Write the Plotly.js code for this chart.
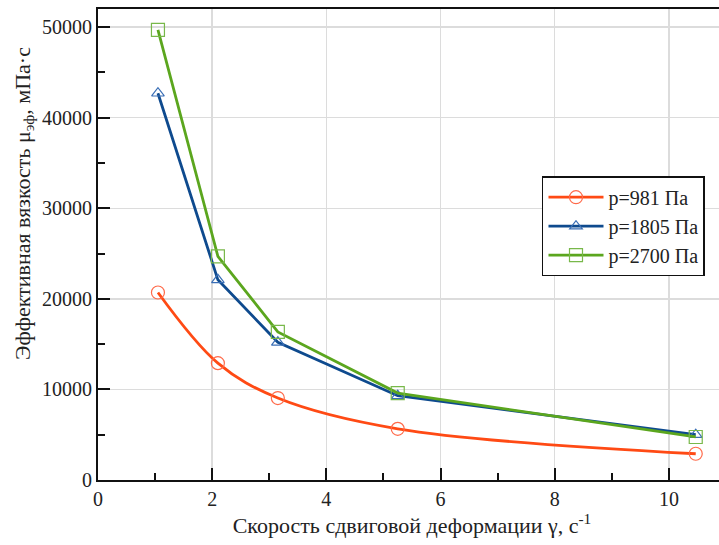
<!DOCTYPE html>
<html>
<head>
<meta charset="utf-8">
<script src="https://cdn.plot.ly/plotly-3.0.1.min.js"></script>
<style>
html,body{margin:0;padding:0;overflow:hidden;background:#fff;}
#chart{width:730px;height:545px;}
</style>
</head>
<body>
<div id="chart"></div>
<script>
// Shear rate, s^-1
const shearRate = [1.05, 2.1, 3.15, 5.25, 10.47];
// Effective viscosity, mPa·s
const visc981 = [20700, 12900, 9050, 5650, 2900];
const visc1805 = [42700, 22100, 15200, 9300, 5000];
const visc2700 = [49700, 24700, 16350, 9600, 4750];
const seriesNames = ['p=981 Па', 'p=1805 Па', 'p=2700 Па'];
const xTitle = 'Скорость сдвиговой деформации γ, с<sup>-1</sup>';
const yTitle = 'Эффективная вязкость μ<sub>эф</sub>, мПа·с';

const serif = '"Liberation Serif", serif';

const traces = [
  {
    x: shearRate, y: visc981, name: seriesNames[0], type: 'scatter', mode: 'lines+markers',
    line: {color: '#ff4a14', width: 2.8, shape: 'spline', smoothing: 1},
    marker: {symbol: 'circle-open', size: 13, color: '#ff6a4a', line: {width: 1.2}}
  },
  {
    x: shearRate, y: visc1805, name: seriesNames[1], type: 'scatter', mode: 'lines+markers',
    line: {color: '#0e4a8e', width: 2.8},
    marker: {symbol: 'triangle-up-open', size: 11, color: '#3b6fb6', line: {width: 1.2}}
  },
  {
    x: shearRate, y: visc2700, name: seriesNames[2], type: 'scatter', mode: 'lines+markers',
    line: {color: '#5ba61e', width: 2.8},
    marker: {symbol: 'square-open', size: 13, color: '#78b84a', line: {width: 1.2}}
  }
];

const layout = {
  width: 730, height: 545,
  margin: {l: 98, r: 4, t: 9, b: 65},
  paper_bgcolor: '#fff', plot_bgcolor: '#fff',
  font: {family: serif, size: 19, color: '#222'},
  showlegend: true,
  legend: {
    x: 0.707, y: 0.645, xanchor: 'left', yanchor: 'top',
    bgcolor: '#fff', bordercolor: '#111', borderwidth: 1.5,
    font: {family: serif, size: 20, color: '#222'},
    itemwidth: 55,
    tracegroupgap: 0
  },
  xaxis: {
    range: [0, 11], dtick: 2, tick0: 0,
    ticks: 'inside', ticklen: 12, tickwidth: 2, tickcolor: '#111',
    showline: true, linecolor: '#111', linewidth: 2, mirror: true,
    showgrid: true, gridcolor: '#dcdcdc', gridwidth: 1.5, zeroline: false,
    minor: {dtick: 1, ticks: 'inside', ticklen: 7, tickwidth: 2, tickcolor: '#111', showgrid: false},
    tickfont: {family: serif, size: 20, color: '#222'},
    title: {text: xTitle, font: {family: serif, size: 22, color: '#222'}, standoff: 8}
  },
  yaxis: {
    range: [0, 52000], dtick: 10000, tick0: 0,
    ticks: 'inside', ticklen: 12, tickwidth: 2, tickcolor: '#111',
    showline: true, linecolor: '#111', linewidth: 2, mirror: true,
    showgrid: true, gridcolor: '#dcdcdc', gridwidth: 1.5, zeroline: false,
    minor: {dtick: 5000, ticks: 'inside', ticklen: 7, tickwidth: 2, tickcolor: '#111', showgrid: false},
    tickfont: {family: serif, size: 20, color: '#222'},
    tickformat: 'd'
  },
  annotations: [{
    text: yTitle, textangle: -90, showarrow: false,
    xref: 'paper', yref: 'paper', x: -0.118, y: 0.588,
    xanchor: 'center', yanchor: 'middle',
    font: {family: serif, size: 22, color: '#222'}
  }]
};

Plotly.newPlot('chart', traces, layout, {displayModeBar: false, staticPlot: true});
</script>
</body>
</html>
